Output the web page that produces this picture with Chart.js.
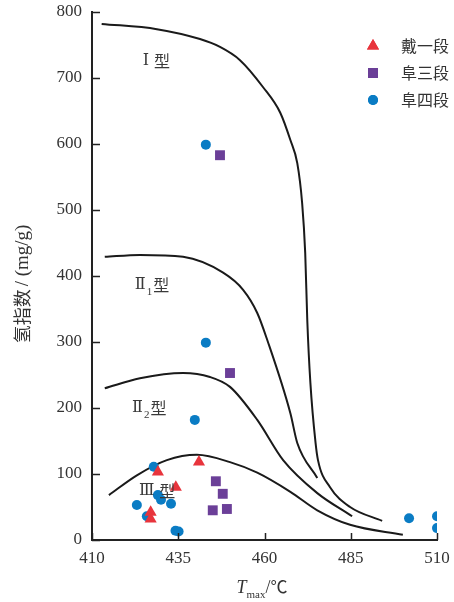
<!DOCTYPE html>
<html>
<head>
<meta charset="utf-8">
<script src="https://cdn.jsdelivr.net/npm/chart.js@4.4.1/dist/chart.umd.min.js"></script>
<style>
  html, body { margin: 0; padding: 0; background: #fff; }
  #wrap { width: 454px; height: 602px; position: relative; }
</style>
</head>
<body>
<div id="wrap"><canvas id="chart"></canvas></div>
<script>
// sample points: Tmax (°C) and hydrogen index (mg/g)
const daiTmax = [429.1, 441.0, 434.3, 427.0, 427.0];
const daiHI = [103, 118, 80, 42, 32];

const fu3Tmax = [447.1, 450.0, 445.9, 447.9, 445.0, 449.1];
const fu3HI = [583, 253, 89, 70, 45, 47];

const fu4Tmax = [443.0, 443.0, 439.8, 427.9, 429.1, 430.0, 423.0, 425.9, 432.9, 434.2, 435.1, 501.9, 510, 510];
const fu4HI = [599, 299, 182, 111, 68, 61, 53, 36, 55, 14, 13, 33, 36, 18];

// kerogen type boundary curves
const curveITmax = [412.8, 428.8, 441.3, 447.1, 452.9, 459.6, 464.6, 467.5, 469.5, 470.9, 471.8, 472.4, 473.3, 474.8, 475.5, 479.0, 484.8, 494.1];
const curveIHI = [782, 774, 759, 747, 727, 686, 647, 606, 571, 511, 435, 333, 238, 147, 121, 80, 50, 29];

const curveII1Tmax = [413.7, 423.9, 436.4, 448.0, 453.8, 457.9, 460.8, 467.5, 469.5, 475.3];
const curveII1HI = [429, 432, 429, 405, 379, 344, 303, 192, 147, 94];

const curveII2Tmax = [413.7, 423.9, 436.4, 444.2, 450.0, 457.9, 465.4, 475.3, 485.4];
const curveII2HI = [230, 245, 253, 247, 232, 182, 121, 71, 36];

const curveIIITmax = [414.9, 423.0, 431.7, 440.4, 450.0, 457.9, 467.5, 475.3, 484.8, 500.1];
const curveIIIHI = [68, 98, 121, 129, 118, 102, 73, 45, 23, 8];

const xTicks = [410, 435, 460, 485, 510];
const yTicks = [0, 100, 200, 300, 400, 500, 600, 700, 800];

const seriesNames = ["戴一段", "阜三段", "阜四段"];

const serif = '"Liberation Serif", "DejaVu Serif", serif';
const cjk = '"Noto Sans CJK SC", "Noto Sans", sans-serif';
const textColor = "#333";

function pts(xs, ys) {
  return xs.map((x, i) => ({ x, y: ys[i] }));
}

function curve(xs, ys) {
  return {
    type: "line",
    data: pts(xs, ys),
    borderColor: "#1a1a1a",
    borderWidth: 2,
    pointRadius: 0,
    fill: false,
    cubicInterpolationMode: "monotone",
    order: 2,
  };
}

const markers = [
  { style: "triangle", color: "#e8343c", radius: 7 },
  { style: "rect", color: "#6b3f98", radius: 7 },
  { style: "circle", color: "#0a7cc4", radius: 5 },
];

const sampleSets = [
  pts(daiTmax, daiHI),
  pts(fu3Tmax, fu3HI),
  pts(fu4Tmax, fu4HI),
];

const scatterDatasets = sampleSets.map((data, i) => ({
  type: "scatter",
  label: seriesNames[i],
  data,
  pointStyle: markers[i].style,
  pointRadius: markers[i].radius,
  pointHoverRadius: markers[i].radius,
  backgroundColor: markers[i].color,
  borderColor: markers[i].color,
  borderWidth: 0,
  order: 1,
}));

// type labels inside the plot, anchored in data coords (left edge, vertical centre)
const typeLabels = [
  { x: 424.7, y: 726, num: "Ⅰ", sub: "" },
  { x: 422.4, y: 386, num: "Ⅱ", sub: "1" },
  { x: 421.6, y: 200, num: "Ⅱ", sub: "2" },
  { x: 423.6, y: 74, num: "Ⅲ", sub: "" },
];

const overlay = {
  id: "overlay",
  afterDraw(chart) {
    const { ctx, chartArea, scales } = chart;
    const xs = scales.x, ys = scales.y;
    ctx.save();

    // inward tick marks
    ctx.strokeStyle = "#222";
    ctx.lineWidth = 1.5;
    ctx.beginPath();
    xTicks.forEach((v) => {
      const px = Math.round(xs.getPixelForValue(v)) + 0.5;
      ctx.moveTo(px, chartArea.bottom);
      ctx.lineTo(px, chartArea.bottom - 7);
    });
    yTicks.forEach((v) => {
      const py = Math.round(ys.getPixelForValue(v)) + 0.5;
      ctx.moveTo(chartArea.left, py);
      ctx.lineTo(chartArea.left + 8, py);
    });
    ctx.stroke();

    // type labels
    ctx.fillStyle = "#3a3a3a";
    ctx.textBaseline = "middle";
    ctx.textAlign = "left";
    typeLabels.forEach((l) => {
      let px = xs.getPixelForValue(l.x);
      const py = ys.getPixelForValue(l.y);
      ctx.font = "16px " + serif;
      ctx.fillText(l.num, px, py);
      px += ctx.measureText(l.num).width + 1;
      if (l.sub) {
        ctx.font = "11px " + serif;
        ctx.fillText(l.sub, px, py + 7);
        px += ctx.measureText(l.sub).width + 1;
      } else {
        px += 4;
      }
      ctx.font = "16px " + cjk;
      ctx.fillText("型", px, py);
    });

    // legend, top right
    const lx = chartArea.right - 64;
    seriesNames.forEach((name, i) => {
      const ly = chartArea.top + 34 + i * 27;
      ctx.fillStyle = markers[i].color;
      Chart.helpers.drawPoint(ctx, {
        pointStyle: markers[i].style,
        radius: markers[i].radius,
        rotation: 0,
        borderWidth: 0,
      }, lx, ly);
      ctx.fill();
      ctx.fillStyle = textColor;
      ctx.font = "16px " + cjk;
      ctx.textBaseline = "middle";
      ctx.fillText(name, lx + 28, ly);
    });

    // y axis title
    ctx.save();
    ctx.translate(22, 284);
    ctx.rotate(-Math.PI / 2);
    ctx.font = "18px " + cjk;
    const a = "氢指数";
    const wa = ctx.measureText(a).width + 3;
    ctx.font = "19px " + serif;
    const b = "/ (mg/g)";
    const wb = ctx.measureText(b).width;
    let sx = -(wa + wb) / 2;
    ctx.fillStyle = textColor;
    ctx.textBaseline = "middle";
    ctx.font = "18px " + cjk;
    ctx.fillText(a, sx, 0);
    ctx.font = "19px " + serif;
    ctx.fillText(b, sx + wa, 1);
    ctx.restore();

    // x axis title: T_max/℃
    ctx.textBaseline = "alphabetic";
    ctx.fillStyle = textColor;
    ctx.font = "italic 18px " + serif;
    const wT = ctx.measureText("T").width;
    ctx.font = "11px " + serif;
    const wm = ctx.measureText("max").width;
    ctx.font = "18px " + serif;
    const ws = ctx.measureText("/").width;
    ctx.font = "17px " + cjk;
    const wc = ctx.measureText("℃").width;
    let tx = 262 - (wT + wm + ws + wc) / 2;
    const by = 593;
    ctx.font = "italic 18px " + serif;
    ctx.fillText("T", tx, by);
    tx += wT;
    ctx.font = "11px " + serif;
    ctx.fillText("max", tx, by + 5);
    tx += wm;
    ctx.font = "18px " + serif;
    ctx.fillText("/", tx, by);
    tx += ws;
    ctx.font = "17px " + cjk;
    ctx.fillText("℃", tx, by);

    ctx.restore();
  },
};

function noPad(scale) {
  scale.paddingTop = 0;
  scale.paddingBottom = 0;
  scale.paddingLeft = 0;
  scale.paddingRight = 0;
}

new Chart(document.getElementById("chart"), {
  type: "scatter",
  data: {
    datasets: [
      curve(curveITmax, curveIHI),
      curve(curveII1Tmax, curveII1HI),
      curve(curveII2Tmax, curveII2HI),
      curve(curveIIITmax, curveIIIHI),
      ...scatterDatasets,
    ],
  },
  options: {
    responsive: true,
    maintainAspectRatio: false,
    animation: false,
    layout: { padding: { top: 12, right: 17, left: 0, bottom: 0 } },
    plugins: {
      legend: { display: false },
      tooltip: { enabled: false },
    },
    scales: {
      x: {
        type: "linear",
        min: 410,
        max: 510,
        afterBuildTicks: (scale) => {
          scale.ticks = xTicks.map((v) => ({ value: v }));
        },
        afterFit: (scale) => {
          scale.height = 62;
          noPad(scale);
        },
        ticks: {
          font: { family: serif, size: 17 },
          color: textColor,
          padding: 8,
          maxRotation: 0,
        },
        grid: { display: false, drawTicks: false },
        border: { display: true, color: "#222", width: 2 },
      },
      y: {
        type: "linear",
        min: 0,
        max: 800,
        afterBuildTicks: (scale) => {
          scale.ticks = yTicks.map((v) => ({ value: v }));
        },
        afterFit: (scale) => {
          scale.width = 92;
          noPad(scale);
        },
        ticks: {
          font: { family: serif, size: 17 },
          color: textColor,
          padding: 10,
        },
        grid: { display: false, drawTicks: false },
        border: { display: true, color: "#222", width: 2 },
      },
    },
  },
  plugins: [overlay],
});
</script>
</body>
</html>
